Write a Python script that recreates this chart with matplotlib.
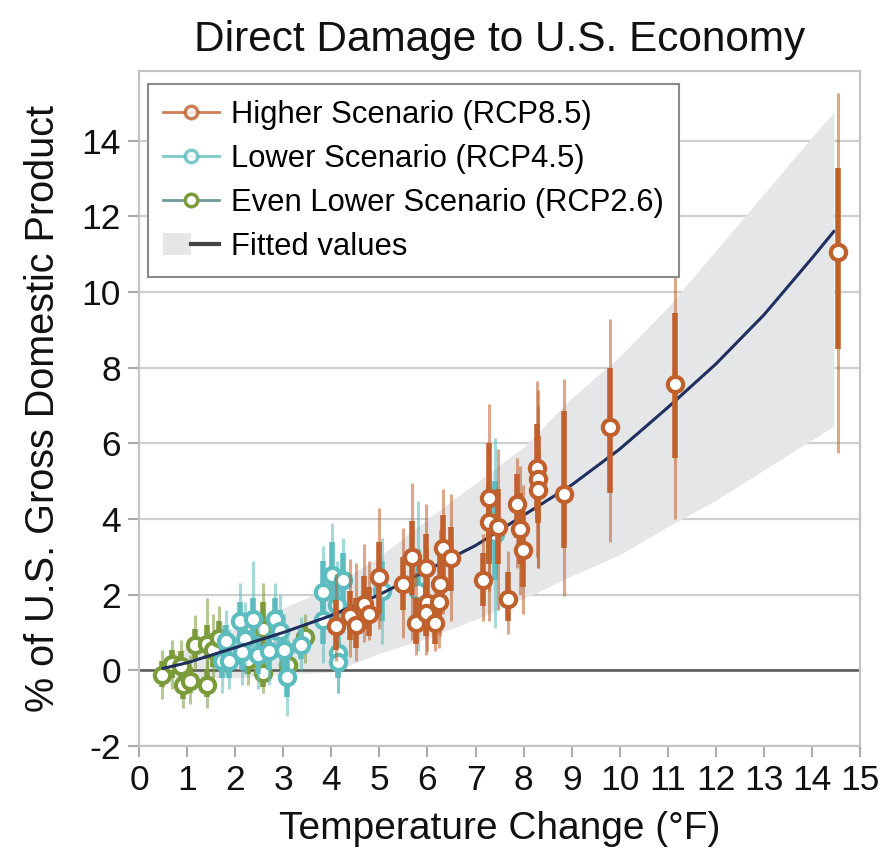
import numpy as np
import matplotlib
matplotlib.use('Agg')
import matplotlib.pyplot as plt
from matplotlib.lines import Line2D
from matplotlib.patches import Patch
from matplotlib.legend_handler import HandlerTuple

plt.rcParams['font.family'] = ['Liberation Sans', 'DejaVu Sans']
plt.rcParams['axes.unicode_minus'] = False

# Higher Scenario (RCP8.5)
hi_temp = [4.10, 4.39, 4.51, 4.67, 4.79, 4.99, 5.50, 5.67, 5.76, 5.96, 6.00, 5.97, 6.16, 6.26, 6.25, 6.33,
           6.50, 7.16, 7.68, 7.98, 7.93, 7.86, 7.27, 7.27, 7.47, 8.27, 8.29, 8.30, 8.84, 9.80, 11.15, 14.54]
hi_val = [1.18, 1.43, 1.21, 1.76, 1.50, 2.46, 2.27, 2.99, 1.25, 2.71, 1.78, 1.52, 1.25, 2.28, 1.81, 3.24,
          2.97, 2.40, 1.89, 3.17, 3.73, 4.40, 4.56, 3.92, 3.78, 5.35, 5.05, 4.76, 4.65, 6.43, 7.58, 11.06]
hi_lo1 = [0.55, 0.8, 0.6, 1.1, 0.9, 1.5, 1.6, 2.0, 0.7, 1.8, 1.1, 0.9, 0.7, 1.5, 1.2, 2.4,
          2.1, 1.7, 1.3, 2.2, 2.8, 3.5, 2.8, 2.9, 2.8, 4.2, 4.0, 3.9, 3.24, 4.7, 5.62, 8.49]
hi_hi1 = [1.85, 2.1, 1.9, 2.5, 2.2, 3.4, 3.0, 3.95, 1.9, 3.6, 2.5, 2.2, 1.9, 3.1, 2.5, 4.1,
          3.8, 3.1, 2.6, 4.2, 4.7, 5.2, 6.0, 4.9, 4.8, 6.5, 6.2, 5.8, 6.85, 8.0, 9.45, 13.29]
hi_lo2 = [0.25, 0.35, 0.25, 0.75, 0.8, 1.1, 0.85, 0.8, 0.4, 1.0, 0.5, 0.4, 0.5, 0.9, 0.6, 1.5,
          1.3, 1.3, 0.95, 1.5, 2.0, 2.7, 1.3, 2.1, 1.6, 3.0, 2.7, 2.7, 1.96, 3.4, 3.99, 5.75]
hi_hi2 = [2.55, 2.95, 2.85, 3.35, 2.9, 4.3, 3.75, 4.95, 2.6, 4.4, 3.2, 2.9, 2.5, 3.7, 3.1, 4.8,
          4.65, 3.6, 3.15, 4.9, 5.4, 5.6, 7.03, 5.8, 5.85, 7.65, 7.4, 7.0, 7.7, 9.3, 11.03, 15.27]

# Lower Scenario (RCP4.5)
lo_temp = [1.72, 1.88, 1.82, 2.10, 2.38, 2.20, 2.14, 2.47, 2.71, 2.82, 2.93, 3.02, 3.08, 3.38,
           3.82, 4.02, 4.25, 3.83, 4.15, 4.13, 4.11, 5.05, 5.81, 7.40]
lo_val = [0.24, 0.24, 0.77, 1.30, 1.36, 0.83, 0.48, 0.41, 0.50, 1.36, 1.05, 0.55, -0.18, 0.68,
          2.08, 2.53, 2.40, 1.34, 0.45, 0.22, 1.72, 2.10, 2.09, 3.60]
lo_lo1 = [-0.2, -0.2, 0.3, 0.8, 0.8, 0.3, 0.0, -0.1, 0.0, 0.8, 0.5, 0.0, -0.7, 0.3,
          1.3, 1.6, 1.6, 0.7, -0.1, -0.2, 1.0, 1.3, 1.3, 2.4]
lo_hi1 = [0.7, 0.7, 1.2, 1.8, 1.9, 1.4, 1.0, 0.9, 1.0, 1.9, 1.6, 1.1, 0.4, 1.1,
          2.9, 3.4, 3.1, 2.0, 1.0, 0.7, 2.4, 2.9, 3.2, 5.0]
lo_lo2 = [-0.6, -0.5, -0.1, 0.4, 0.3, -0.1, -0.4, -0.5, -0.4, 0.4, 0.1, -0.4, -1.2, 0.0,
          0.9, 1.0, 1.0, 0.2, -0.6, -0.6, 0.5, 0.7, 0.5, 1.12]
lo_hi2 = [1.2, 1.1, 1.6, 2.3, 2.9, 1.8, 1.4, 1.3, 1.5, 2.3, 2.0, 1.5, 0.9, 1.4,
          3.3, 3.9, 3.5, 2.5, 1.5, 1.0, 2.9, 3.5, 4.47, 6.15]

# Even Lower Scenario (RCP2.6)
el_temp = [0.47, 0.68, 0.88, 0.92, 1.06, 1.41, 1.17, 1.41, 1.54, 1.66, 2.27, 2.57, 2.59, 3.10, 3.46]
el_val = [-0.11, 0.17, 0.11, -0.38, -0.27, -0.38, 0.68, 0.70, 0.55, 0.85, 0.28, 1.10, -0.07, 0.15, 0.88]
el_lo1 = [-0.45, -0.2, -0.25, -0.75, -0.6, -0.7, 0.3, 0.3, 0.1, 0.4, -0.1, 0.4, -0.45, -0.2, 0.5]
el_hi1 = [0.25, 0.55, 0.5, 0.0, 0.1, 0.0, 1.1, 1.2, 1.0, 1.3, 0.7, 1.8, 0.3, 0.5, 1.2]
el_lo2 = [-0.75, -0.5, -0.6, -1.0, -0.9, -1.0, 0.0, -0.1, -0.2, 0.0, -0.4, 0.0, -0.6, -0.5, 0.2]
el_hi2 = [0.55, 0.8, 0.8, 0.3, 0.4, 0.3, 1.45, 1.9, 1.5, 1.7, 1.0, 2.3, 0.5, 0.8, 1.5]

# fitted curve and its band, read at these temperatures
fit_temp = [0.5, 1, 2, 3, 4, 5, 6, 7, 8, 9, 10, 11, 12, 13, 14, 14.45]
fit_val = [0.05, 0.2, 0.6, 1.0, 1.45, 2.0, 2.65, 3.3, 4.1, 4.9, 5.85, 6.95, 8.1, 9.4, 10.9, 11.6]
band_lo = [-0.2, -0.2, -0.2, -0.1, -0.05, 0.45, 0.85, 1.35, 1.9, 2.5, 3.06, 3.8, 4.5, 5.3, 6.1, 6.45]
band_hi = [0.35, 0.6, 1.1, 1.65, 2.2, 3.0, 4.0, 4.95, 5.9, 7.2, 8.3, 9.6, 11.1, 12.6, 14.1, 14.75]

orange = '#c0602d'
teal = '#5cbcbf'
green = '#7b9b3a'
navy = '#1f2f5e'
band_col = '#e5e6e8'

fig = plt.figure(figsize=(8.85, 8.52), dpi=100)
ax = fig.add_axes([0.157, 0.1244, 0.815, 0.7926])

ax.fill_between(fit_temp, band_lo, band_hi, color=band_col, lw=0, zorder=1)


def draw_series(t, v, lo1, hi1, lo2, hi2, col, z):
    ax.vlines(t, lo2, hi2, color=col, alpha=0.55, lw=2.2, zorder=z)
    ax.vlines(t, lo1, hi1, color=col, lw=4, zorder=z + 0.1)
    ax.plot(t, v, 'o', ls='none', ms=11, mfc='white', mec=col, mew=3, zorder=z + 0.2)


draw_series(el_temp, el_val, el_lo1, el_hi1, el_lo2, el_hi2, green, 3)
draw_series(lo_temp, lo_val, lo_lo1, lo_hi1, lo_lo2, lo_hi2, teal, 4)
ax.plot(fit_temp, fit_val, color=navy, lw=2.2, zorder=4.5)
draw_series(hi_temp, hi_val, hi_lo1, hi_hi1, hi_lo2, hi_hi2, orange, 5)

ax.set_xlim(0, 15)
ax.set_ylim(-2, 15.85)
ax.set_xticks(range(0, 16))
ax.set_yticks(range(-2, 15, 2))
ax.yaxis.grid(True, color='#cfcfcf', lw=1.6, zorder=0)
ax.set_axisbelow(True)
ax.axhline(0, color='#555555', lw=1.8, zorder=2)
for s in ax.spines.values():
    s.set_color('#c4c4c4')
    s.set_linewidth(1.6)
ax.tick_params(axis='both', colors='#aaaaaa', width=1.5, length=8, labelcolor='#111111', labelsize=25.5, pad=5)

ax.set_title('Direct Damage to U.S. Economy', fontsize=30.5, pad=14, color='#111111')
ax.set_xlabel('Temperature Change (°F)', fontsize=28, color='#111111', labelpad=10)
ax.set_ylabel('% of U.S. Gross Domestic Product', fontsize=28.5, color='#111111', labelpad=14)

h_hi = Line2D([], [], color=orange, lw=2, alpha=0.8, marker='o', ms=9, mfc='white', mec=orange, mew=2.5)
h_lo = Line2D([], [], color=teal, lw=2, alpha=0.8, marker='o', ms=9, mfc='white', mec=teal, mew=2.5)
h_el = Line2D([], [], color='#6f9a9c', lw=2, marker='o', ms=9, mfc='white', mec=green, mew=2.5)
h_fit = (Patch(facecolor=band_col, edgecolor='none'), Line2D([], [], color='#444444', lw=3))
leg = ax.legend([h_hi, h_lo, h_el, h_fit],
                ['Higher Scenario (RCP8.5)', 'Lower Scenario (RCP4.5)',
                 'Even Lower Scenario (RCP2.6)', 'Fitted values'],
                handler_map={tuple: HandlerTuple(ndivide=None, pad=0)},
                loc='upper left', bbox_to_anchor=(0.012, 0.98), borderaxespad=0,
                fontsize=22.3, fancybox=False, framealpha=1, edgecolor='#8a8a8a',
                handlelength=1.8, handletextpad=0.4, labelspacing=0.45, borderpad=0.5)
leg.get_frame().set_linewidth(1.5)
leg.set_zorder(10)

fig.savefig('out.png', dpi=100)
